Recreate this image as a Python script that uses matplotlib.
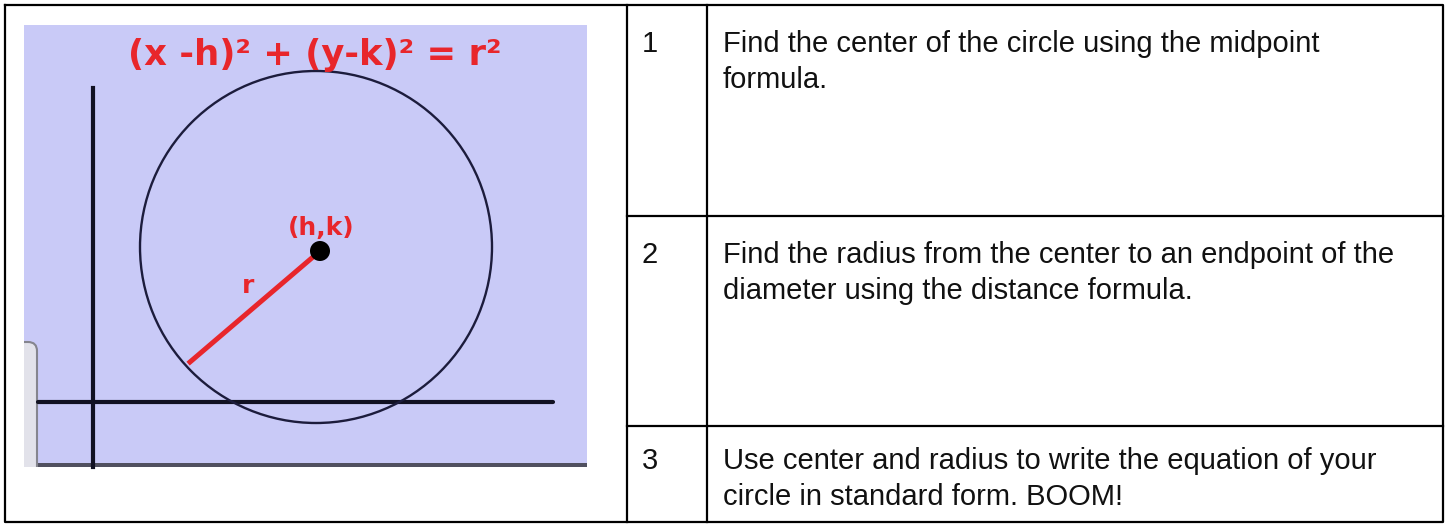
import matplotlib
matplotlib.use("Agg")
import matplotlib.pyplot as plt
from matplotlib.patches import Rectangle, Circle, FancyBboxPatch

# table layout (pixels)
W, H = 1449, 525
col_edges = [5, 627, 707, 1443]
row_edges = [5, 216, 426, 522]
first_baselines = [52, 263, 469]

step_numbers = ["1", "2", "3"]
step_lines = [
    ["Find the center of the circle using the midpoint", "formula."],
    ["Find the radius from the center to an endpoint of the", "diameter using the distance formula."],
    ["Use center and radius to write the equation of your", "circle in standard form. BOOM!"],
]

# picture in the first cell
panel = (24, 25, 587, 467)          # left, top, right, bottom
circle_center = (316, 247)
circle_radius = 176
dot_center = (320, 251)
radius_end = (190, 362)
x_axis_y = 402
x_axis_span = (38, 553)
y_axis_x = 93
y_axis_span = (88, 467)
equation = "(x -h)² + (y-k)² = r²"
center_label = "(h,k)"

lavender = "#c9caf7"
red = "#e8262b"


def draw_picture(ax):
    l, t, r, b = panel
    bg = Rectangle((l, t), r - l, b - t, facecolor=lavender, edgecolor="none", zorder=1)
    ax.add_patch(bg)
    # dark strip at the bottom of the screenshot
    ax.add_patch(Rectangle((l, b - 4), r - l, 4, facecolor="#50505f", edgecolor="none", zorder=2))
    # grey rounded thing at the left edge (cut off by the screenshot edge)
    tab = FancyBboxPatch((l - 20, 342), 33, 150, boxstyle="round,pad=0,rounding_size=9",
                         facecolor="#e2e2ea", edgecolor="#85858e", lw=1.5, zorder=2)
    ax.add_patch(tab)
    tab.set_clip_path(bg)

    # axes
    ax.plot(x_axis_span, [x_axis_y, x_axis_y], color="#111122", lw=3, solid_capstyle="round", zorder=3)
    ax.plot([y_axis_x, y_axis_x], y_axis_span, color="#111122", lw=3, zorder=3)

    # circle, radius, center
    ax.add_patch(Circle(circle_center, circle_radius, facecolor="none", edgecolor="#1c1c3c", lw=1.7, zorder=4))
    ax.plot([radius_end[0], dot_center[0]], [radius_end[1], dot_center[1]], color=red, lw=3.6, zorder=5)
    ax.add_patch(Circle(dot_center, 10, facecolor="black", edgecolor="none", zorder=6))

    ax.text(315, 55, equation, color=red, fontsize=25.5, fontweight="bold",
            ha="center", va="center", family="DejaVu Sans", zorder=7)
    ax.text(321, 228, center_label, color=red, fontsize=18, fontweight="bold",
            ha="center", va="center", family="DejaVu Sans", zorder=7)
    ax.text(248, 286, "r", color=red, fontsize=18, fontweight="bold",
            ha="center", va="center", family="DejaVu Sans", zorder=7)


def main():
    fig = plt.figure(figsize=(W / 100, H / 100), dpi=100)
    ax = fig.add_axes([0, 0, 1, 1])
    ax.set_xlim(0, W)
    ax.set_ylim(H, 0)
    ax.axis("off")

    draw_picture(ax)

    # table grid
    lw = 1.6
    x0, x3 = col_edges[0], col_edges[-1]
    y0, y3 = row_edges[0], row_edges[-1]
    ax.plot([x0, x3, x3, x0, x0], [y0, y0, y3, y3, y0], color="black", lw=lw)
    ax.plot([col_edges[1]] * 2, [y0, y3], color="black", lw=lw)
    ax.plot([col_edges[2]] * 2, [y0, y3], color="black", lw=lw)
    for y in row_edges[1:-1]:
        ax.plot([col_edges[1], x3], [y, y], color="black", lw=lw)

    num_x = 650
    for base, num, lines in zip(first_baselines, step_numbers, step_lines):
        ax.text(num_x, base, num, fontsize=21, family="Liberation Sans",
                ha="center", va="baseline", color="#111111")
        for i, line in enumerate(lines):
            ax.text(col_edges[2] + 16, base + 36 * i, line, fontsize=21, family="Liberation Sans",
                    ha="left", va="baseline", color="#111111")

    fig.savefig("out.png", dpi=100)


if __name__ == '__main__':
    main()
